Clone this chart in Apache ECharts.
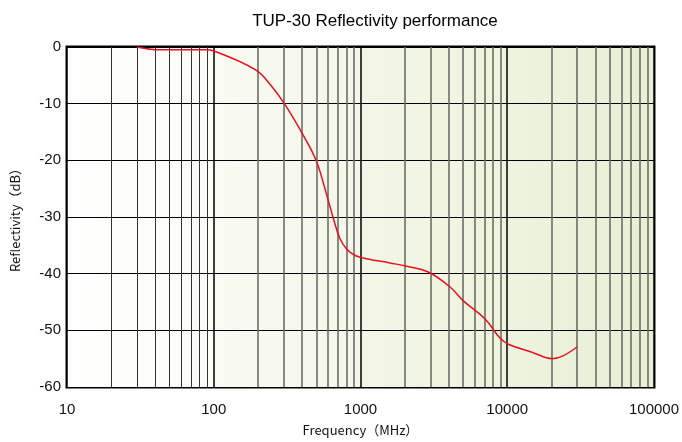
<!DOCTYPE html>
<html><head><meta charset="utf-8">
<script src="https://cdn.jsdelivr.net/npm/echarts@6/dist/echarts.min.js"></script>
<style>html,body{margin:0;padding:0;background:#fff}#c{width:682px;height:442px}</style>
</head><body><div id="c"></div>
<script>
const titleText = 'TUP-30 Reflectivity performance';
const xName = 'Frequency（MHz）';
const yName = 'Reflectivity（dB）';
const freqMHz = [30, 43, 88, 100, 192, 244, 303, 406, 498, 590, 654, 724, 802, 919, 1127, 1585, 2076, 2917, 4095, 5024, 7063, 8955, 10260, 14900, 20200, 24000, 30000];
const reflDb  = [0, -0.5, -0.5, -0.7, -4.0, -6.7, -10, -15.5, -20, -26.2, -30.3, -33.8, -35.6, -36.8, -37.4, -38.1, -38.7, -39.75, -42.4, -44.8, -48, -51.4, -52.5, -53.9, -55, -54.5, -52.9];
const decades = [10, 100, 1000, 10000, 100000];
const minorMultipliers = [2, 3, 4, 5, 6, 7, 8, 9];

const minorLines = [];
for (let d = 0; d < decades.length - 1; d++) {
  for (const m of minorMultipliers) {
    minorLines.push({xAxis: decades[d] * m, lineStyle: {type: 'solid', color: d === 0 ? '#333' : '#6b6f66', width: d === 0 ? 1 : 1.6}});
  }
}
function grad(a, b) {
  return {type: 'linear', x: 0, y: 0, x2: 1, y2: 0, colorStops: [{offset: 0, color: a}, {offset: 1, color: b}]};
}
const chart = echarts.init(document.getElementById('c'));
chart.setOption({
  backgroundColor: '#fff',
  animation: false,
  title: {text: titleText, left: 370, top: 8, textAlign: 'center',
    textStyle: {fontFamily: 'Liberation Sans, Arial', fontSize: 17, fontWeight: 'normal', color: '#000'}},
  grid: {left: 67, right: 25, top: 47, bottom: 55, show: true, borderColor: '#000', borderWidth: 3, backgroundColor: 'transparent'},
  xAxis: {
    type: 'log', logBase: 10, min: 10, max: 100000, z: 0,
    name: xName, nameLocation: 'middle', nameGap: 37,
    nameTextStyle: {fontFamily: 'Noto Sans CJK KR', fontSize: 13, color: '#111'},
    axisLine: {show: false}, axisTick: {show: false},
    axisLabel: {margin: 15, fontFamily: 'Liberation Sans, Arial', fontSize: 15, color: '#111', formatter: v => String(v)},
    splitLine: {show: true, lineStyle: {color: '#000', width: 1.5}},
    splitArea: {show: true, areaStyle: {color: [
      grad('#ffffff', '#fbfbf7'), grad('#f9faf2', '#f4f6e9'), grad('#f3f6e6', '#eef3dd'), grad('#edf3df', '#e7efd5')
    ]}}
  },
  yAxis: {
    type: 'value', min: -60, max: 0, interval: 10, z: 1,
    name: yName, nameLocation: 'middle', nameGap: 45, nameRotate: 90,
    nameTextStyle: {fontFamily: 'Noto Sans CJK KR', fontSize: 13, color: '#111'},
    axisLine: {show: false}, axisTick: {show: false},
    axisLabel: {margin: 6, fontFamily: 'Liberation Sans, Arial', fontSize: 15, color: '#111'},
    splitLine: {show: true, lineStyle: {color: '#000', width: 1}}
  },
  series: [{
    type: 'line', data: freqMHz.map((f, i) => [f, reflDb[i]]),
    smooth: 0.4, symbol: 'none', lineStyle: {color: '#e8101e', width: 1.5}, z: 5,
    markLine: {silent: true, symbol: 'none', label: {show: false}, z: 1, data: minorLines}
  }]
});
</script></body></html>
